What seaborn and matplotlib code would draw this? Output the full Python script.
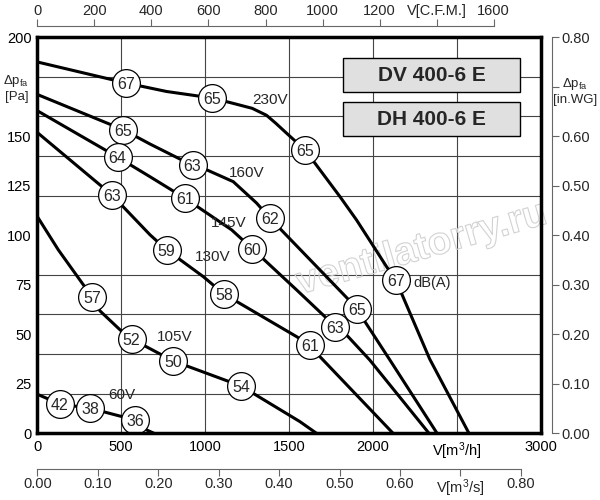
import numpy as np
import pandas as pd
import matplotlib
matplotlib.use("Agg")
import matplotlib.pyplot as plt
import matplotlib.patheffects as pe
from matplotlib.patches import Rectangle
import seaborn as sns

# fan curves: flow [m3/h], static pressure [Pa]
flow_230 = [0, 528, 770, 1042, 1167, 1280, 1365, 1420, 1484, 1593, 1653, 1802, 1901, 1990, 2080, 2135, 2337, 2571]
pa_230 = [187.4, 176.8, 172.5, 169.2, 166.5, 164, 160.5, 156.5, 151.5, 143.1, 136.4, 119.5, 107.7, 96, 84.1, 77.4, 37.5, 0]

flow_160 = [0, 512, 671, 925, 1008, 1167, 1306, 1385, 1702, 1907, 1951, 2100, 2381]
pa_160 = [171, 153.2, 146, 135.2, 133, 127, 116.2, 108.6, 80.8, 62.8, 56.4, 37, 0]

flow_145 = [0, 478, 671, 882, 1157, 1280, 1544, 1776, 1851, 1980, 2333]
pa_145 = [162.8, 139.4, 129.5, 118.5, 102.7, 93.2, 72.4, 53.8, 48.8, 37, 0]

flow_130 = [0, 443, 671, 770, 988, 1111, 1544, 1623, 1683, 2119]
pa_130 = [151.8, 120.4, 100.2, 92.6, 79.1, 70.3, 48.8, 44.6, 38.7, 0]

flow_105 = [0, 125, 327, 373, 493, 562, 810, 1213, 1564, 1663]
pa_105 = [109.4, 92.6, 68.7, 61.8, 52.2, 47.6, 36.5, 23.9, 5.9, 0]

flow_60 = [0, 135, 314, 393, 582, 651, 695]
pa_60 = [19.7, 14.8, 12.6, 10.9, 6.7, 1.7, 0]

voltages = ["230V", "160V", "145V", "130V", "105V", "60V"]

# noise level markers dB(A)
db_flow = [528, 1042, 1593, 2135,
           512, 925, 1385, 1907,
           478, 882, 1280, 1776,
           443, 770, 1111, 1623,
           327, 562, 810, 1213,
           135, 314, 582]
db_pa = [176.8, 169.2, 143.1, 77.4,
         153.2, 135.2, 108.6, 62.8,
         139.4, 118.5, 93.2, 53.8,
         120.4, 92.6, 70.3, 44.6,
         68.7, 47.6, 36.5, 23.9,
         14.8, 12.6, 6.7]
db_vals = [67, 65, 65, 67,
           65, 63, 62, 65,
           64, 61, 60, 63,
           63, 59, 58, 61,
           57, 52, 50, 54,
           42, 38, 36]

# voltage label anchors (flow, pressure)
volt_label_flow = [1385, 1246, 1137, 1044, 820, 502]
volt_label_pa = [168.3, 131.6, 106, 89.2, 48.5, 19.3]

models = ["DV 400-6 E", "DH 400-6 E"]

x_ticks = [0, 500, 1000, 1500, 2000, 2500, 3000]
x_labels = ["0", "500", "1000", "1500", "2000", "V[m$^3$/h]", "3000"]
y_ticks = [0, 25, 50, 75, 100, 125, 150, 175, 200]
y_labels = ["0", "25", "50", "75", "100", "125", "150", "", "200"]
cfm_ticks = [0, 200, 400, 600, 800, 1000, 1200, 1400, 1600]
cfm_labels = ["0", "200", "400", "600", "800", "1000", "1200", "V[C.F.M.]", "1600"]
m3s_ticks = [0.0, 0.1, 0.2, 0.3, 0.4, 0.5, 0.6, 0.7, 0.8]
m3s_labels = ["0.00", "0.10", "0.20", "0.30", "0.40", "0.50", "0.60", "V[m$^3$/s]", "0.80"]
inwg_ticks = [0.0, 0.1, 0.2, 0.3, 0.4, 0.5, 0.6, 0.7, 0.8]
inwg_labels = ["0.00", "0.10", "0.20", "0.30", "0.40", "0.50", "0.60", "", "0.80"]

sns.set_theme(style="white")
plt.rcParams["font.family"] = ["Liberation Sans", "DejaVu Sans"]
plt.rcParams["mathtext.default"] = "regular"

curves = pd.concat([
    pd.DataFrame({"flow": f, "pa": p, "voltage": v})
    for f, p, v in zip([flow_230, flow_160, flow_145, flow_130, flow_105, flow_60],
                       [pa_230, pa_160, pa_145, pa_130, pa_105, pa_60], voltages)
], ignore_index=True)
marks = pd.DataFrame({"flow": db_flow, "pa": db_pa, "db": db_vals})

fig = plt.figure(figsize=(6, 5), dpi=100)
ax = fig.add_axes([37.3 / 600, 66.7 / 500, 503.7 / 600, 396.3 / 500])

sns.lineplot(data=curves, x="flow", y="pa", units="voltage", estimator=None,
             sort=False, color="black", linewidth=2.2, ax=ax, zorder=3)
sns.scatterplot(data=marks, x="flow", y="pa", s=400, color="white",
                edgecolor="black", linewidth=0.9, ax=ax, zorder=5)
for fx, py, d in zip(db_flow, db_pa, db_vals):
    ax.text(fx, py, str(d), ha="center", va="center_baseline", fontsize=11.5, zorder=6)
ax.text(2238, 76, "dB(A)", ha="left", va="center", fontsize=10.5, zorder=6)

for fx, py, v in zip(volt_label_flow, volt_label_pa, voltages):
    ax.text(fx, py, v, ha="center", va="center", fontsize=11, zorder=6)

# model name boxes
for i, name in enumerate(models):
    y0 = 172 - i * 22.2
    ax.add_patch(Rectangle((1820, y0), 1057, 17.5, facecolor="#e0e0e0",
                           edgecolor="black", linewidth=1, zorder=4))
    ax.text(2348, y0 + 8.75, name, ha="center", va="center", fontsize=15,
            fontweight="bold", zorder=6)

# watermark (outline only)
ax.text(2290, 93, "ventilatorry.ru", rotation=16, fontsize=28, fontweight="bold",
        ha="center", va="center", zorder=2, color=(1, 1, 1, 0),
        path_effects=[pe.Stroke(linewidth=0.8, foreground="#d2d2d2")])

ax.set_xlim(0, 3000)
ax.set_ylim(0, 200)
ax.set_xticks(x_ticks)
ax.set_xticklabels(x_labels)
ax.set_yticks(y_ticks)
ax.set_yticklabels(y_labels)
ax.set_yticks(np.arange(20, 200, 20), minor=True)
ax.tick_params(axis="both", which="both", length=0, labelsize=10.5, colors="black")
ax.tick_params(axis="x", pad=5)
ax.tick_params(axis="y", pad=4)
ax.grid(True, axis="x", which="major", color="#444444", linewidth=0.8)
ax.grid(True, axis="y", which="minor", color="#444444", linewidth=0.8)
ax.set_axisbelow(True)
ax.set_xlabel("")
ax.set_ylabel("")
for sp in ax.spines.values():
    sp.set_linewidth(2.5)
    sp.set_color("black")
    sp.set_zorder(7)

axis_grey = "#666666"

# top axis in C.F.M.
top = ax.secondary_xaxis(1.028, functions=(lambda x: x * 0.5886, lambda c: c / 0.5886))
top.set_xticks(cfm_ticks)
top.set_xticklabels(cfm_labels)
top.tick_params(axis="x", direction="out", length=5, width=0.8, color=axis_grey,
                labelsize=10.5, pad=1)
top.spines["top"].set_bounds(0, 1600)
top.spines["top"].set_color(axis_grey)
top.spines["top"].set_linewidth(0.8)

# bottom axis in m3/s
bot = ax.secondary_xaxis(-0.09, functions=(lambda x: x / 3600, lambda q: q * 3600))
bot.set_xticks(m3s_ticks)
bot.set_xticklabels(m3s_labels)
bot.tick_params(axis="x", direction="out", length=5, width=0.8, color=axis_grey,
                labelsize=10.5, pad=1)
bot.spines["bottom"].set_bounds(0, 0.8)
bot.spines["bottom"].set_color(axis_grey)
bot.spines["bottom"].set_linewidth(0.8)

# right axis in in.WG
right = ax.secondary_yaxis(1.021, functions=(lambda p: p / 250, lambda w: w * 250))
right.set_yticks(inwg_ticks)
right.set_yticklabels(inwg_labels)
right.tick_params(axis="y", direction="out", length=5, width=0.8, color=axis_grey,
                  labelsize=10.5, pad=2)
right.spines["right"].set_bounds(0, 0.8)
right.spines["right"].set_color(axis_grey)
right.spines["right"].set_linewidth(0.8)

# pressure unit labels sitting in place of the 175 Pa / 0.70 in.WG ticks
fig.text(16.5 / 600, 1 - 88 / 500, "$\\Delta$p$_{fa}$\n[Pa]", ha="center", va="center",
         ma="center", fontsize=9.5, linespacing=1.3)
fig.text(575 / 600, 1 - 91 / 500, "$\\Delta$p$_{fa}$\n[in.WG]", ha="center", va="center",
         ma="center", fontsize=9.5, linespacing=1.3)

fig.savefig("out.png", dpi=100)
